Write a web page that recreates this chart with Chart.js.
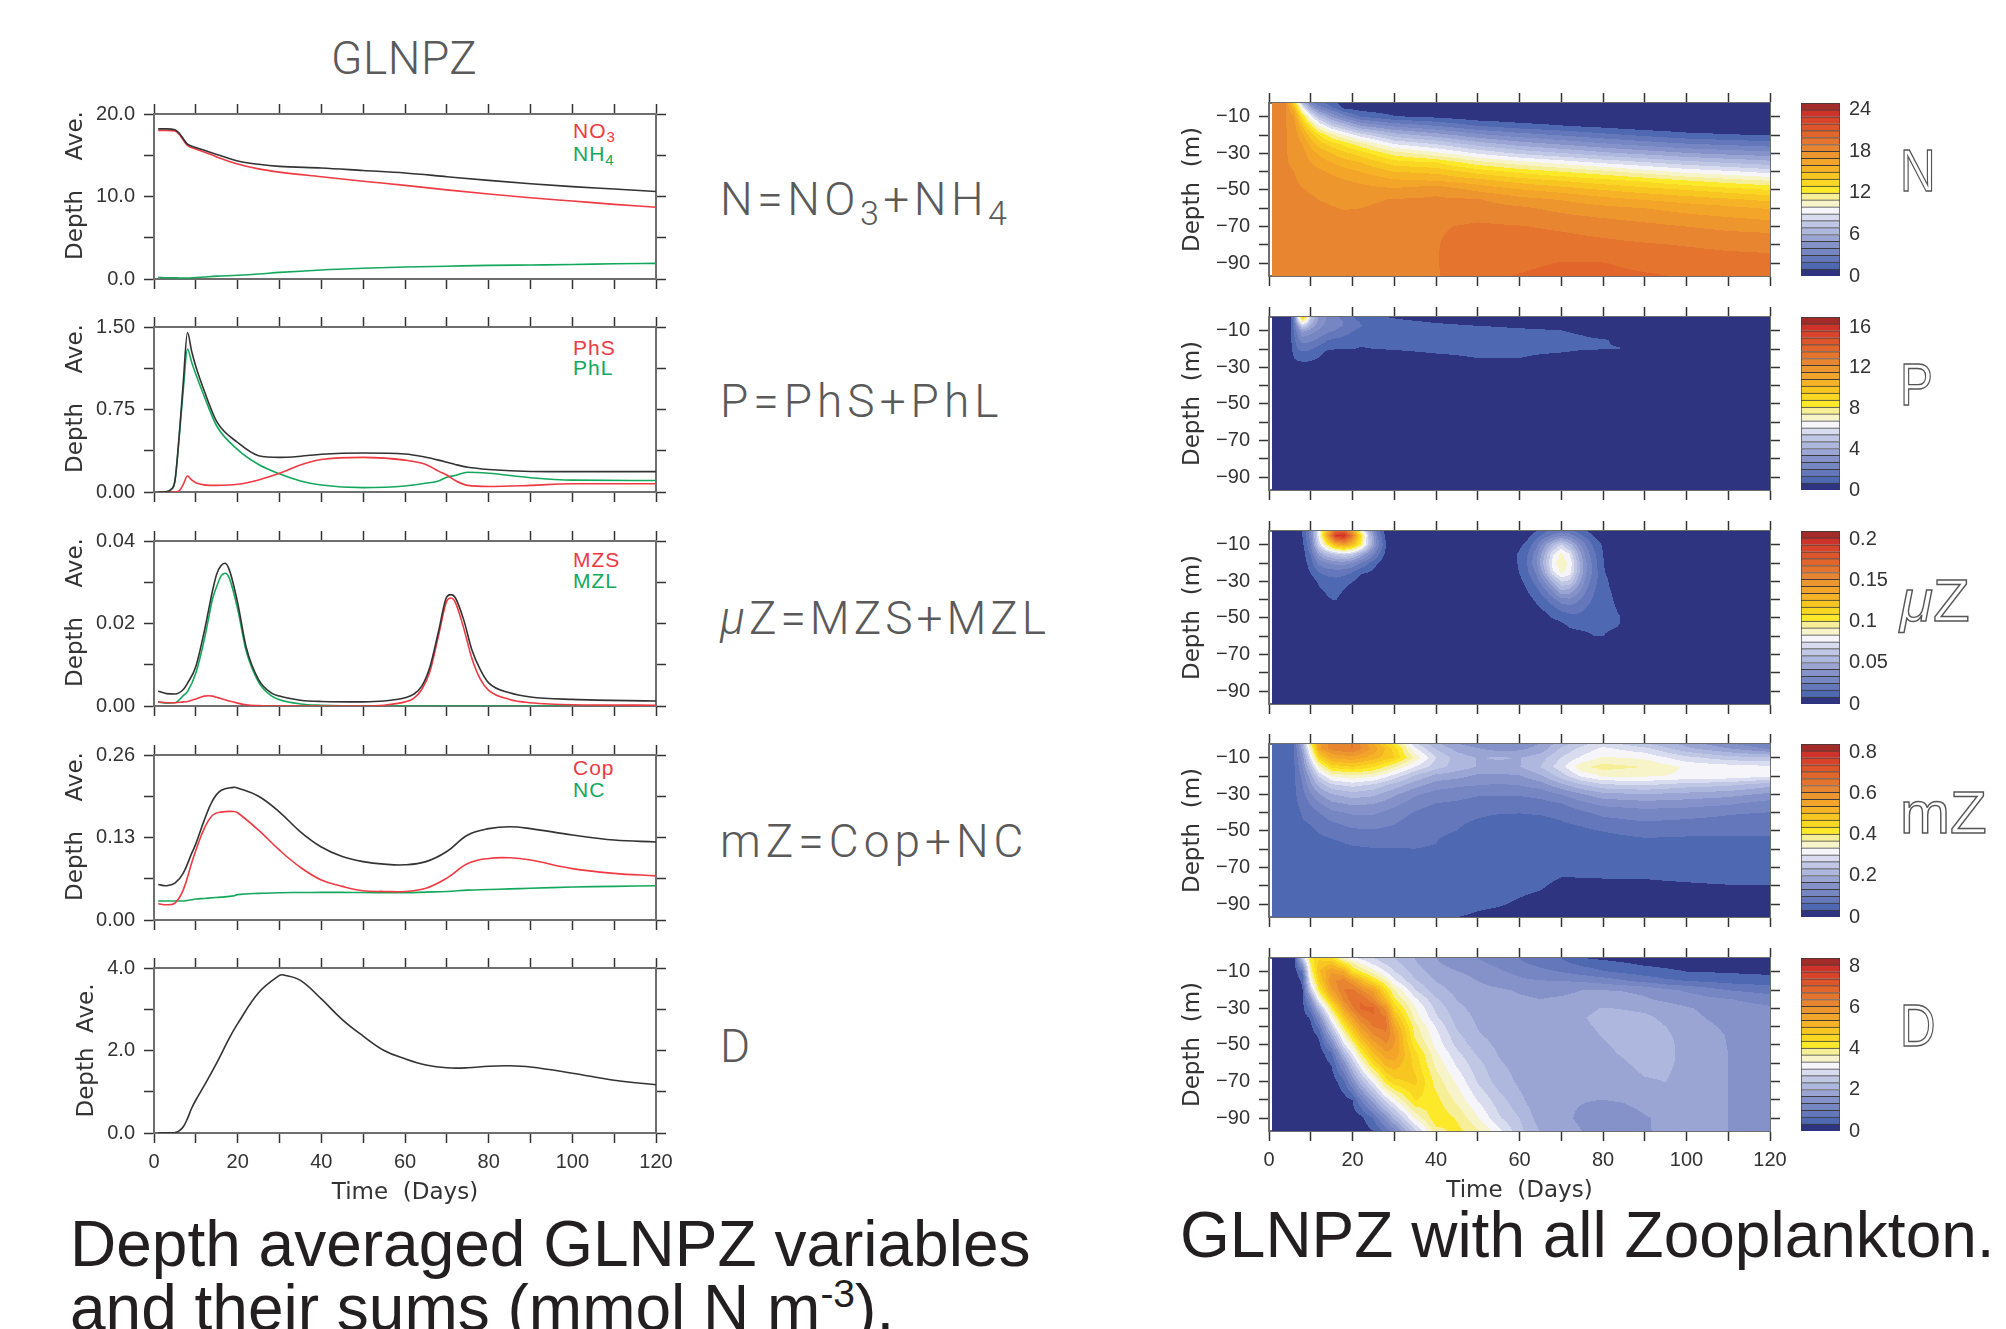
<!DOCTYPE html>
<html lang="en">

<head>
    <meta charset="UTF-8">
    <title>GLNPZ</title>
    <script src="https://cdn.jsdelivr.net/npm/chart.js"></script>
    <style>
        html, body { margin: 0; background: #fff; }
        #page { position: relative; width: 2006px; height: 1329px; overflow: hidden; }
        canvas { position: absolute; }
        .t { position: absolute; white-space: nowrap; line-height: 1; }
        .formula { font: 300 46px Roboto, sans-serif; color: #5a5a5a; letter-spacing: 5px; }
        .formula sub { font-size: 34px; vertical-align: -10px; line-height: 0; }
        .hollow { font: 400 60px "Liberation Sans", sans-serif; color: #fff; -webkit-text-stroke: 1.4px #555; transform-origin: left top; }
        .key { font: 21px "Liberation Sans", sans-serif; letter-spacing: 1px; }
        .key sub { font-size: 15px; vertical-align: -4px; line-height: 0; }
        .caption { font: 64px "Liberation Sans", sans-serif; color: #231f20; }
        .caption sup { font-size: 39px; vertical-align: 23px; line-height: 0; }
    </style>
</head>

<body>
    <div id="page">
        <div class="t formula" style="left:331px;top:31px;font-size:46px;letter-spacing:0.5px;">GLNPZ</div>

        <div class="t formula" style="left:720px;top:172px;letter-spacing:4.5px;">N=NO<sub>3</sub>+NH<sub>4</sub></div>
        <div class="t formula" style="left:720px;top:374px;">P=PhS+PhL</div>
        <div class="t formula" style="left:720px;top:591px;letter-spacing:4px;"><i>μ</i>Z=MZS+MZL</div>
        <div class="t formula" style="left:720px;top:814px;">mZ=Cop+NC</div>
        <div class="t formula" style="left:720px;top:1019px;">D</div>

        <div class="t key" style="left:573px;top:119px;color:#ee3a43;">NO<sub>3</sub></div>
        <div class="t key" style="left:573px;top:142px;color:#14a85c;">NH<sub>4</sub></div>
        <div class="t key" style="left:573px;top:336px;color:#ee3a43;">PhS</div>
        <div class="t key" style="left:573px;top:356px;color:#14a85c;">PhL</div>
        <div class="t key" style="left:573px;top:548px;color:#ee3a43;">MZS</div>
        <div class="t key" style="left:573px;top:569px;color:#14a85c;">MZL</div>
        <div class="t key" style="left:573px;top:756px;color:#ee3a43;">Cop</div>
        <div class="t key" style="left:573px;top:778px;color:#14a85c;">NC</div>

        <div class="t hollow" style="left:1900px;top:136px;transform:scaleX(.82);">N</div>
        <div class="t hollow" style="left:1900px;top:350px;transform:scaleX(.82);">P</div>
        <div class="t hollow" style="left:1900px;top:566px;"><i>μ</i>Z</div>
        <div class="t hollow" style="left:1900px;top:778px;">mZ</div>
        <div class="t hollow" style="left:1900px;top:991px;transform:scaleX(.82);">D</div>

        <div class="t caption" style="left:70px;top:1207px;">Depth averaged GLNPZ variables</div>
        <div class="t caption" style="left:70px;top:1271px;">and their sums (mmol N m<sup>-3</sup>).</div>
        <div class="t caption" style="left:1180px;top:1198px;">GLNPZ with all Zooplankton.</div>
    </div>

    <script type="text/javascript">
        // ---- depth averaged series ----
        const nDays = [1, 3, 5, 6, 7, 8, 10, 12, 15, 20, 25, 30, 40, 50, 60, 70, 80, 90, 100, 110, 120];
        const nTotal = [18.2, 18.2, 18.1, 17.7, 17, 16.35, 15.95, 15.6, 15.1, 14.3, 13.9, 13.65, 13.45, 13.15, 12.85, 12.4, 11.95, 11.55, 11.2, 10.9, 10.6];
        const no3 = [18, 18, 17.95, 17.55, 16.85, 16.2, 15.75, 15.4, 14.8, 13.95, 13.35, 12.95, 12.4, 11.85, 11.35, 10.8, 10.3, 9.85, 9.45, 9.05, 8.7];
        const nh4 = [.2, .15, .15, .12, .12, .12, .18, .25, .35, .45, .6, .8, 1.1, 1.3, 1.45, 1.55, 1.65, 1.7, 1.75, 1.85, 1.9];

        const pDays = [1, 3, 4, 5, 6, 7, 8, 9, 10, 12, 15, 20, 25, 30, 35, 40, 50, 60, 65, 68, 70, 72, 75, 80, 90, 100, 120];
        const pTotal = [0, .003, .02, .1, .5, 1, 1.45, 1.28, 1.14, .92, .64, .45, .33, .315, .325, .343, .355, .346, .316, .29, .27, .25, .225, .205, .187, .185, .185];
        const phS = [0, 0, 0, 0, .01, .07, .145, .11, .085, .065, .06, .07, .11, .17, .245, .295, .315, .29, .25, .19, .155, .105, .06, .05, .06, .075, .075];
        const phL = [0, .003, .02, .1, .49, .93, 1.3, 1.18, 1.07, .87, .6, .385, .25, .165, .1, .063, .04, .055, .08, .1, .135, .15, .18, .17, .13, .108, .105];

        const muDays = [1, 3, 5, 7, 8, 10, 12, 13, 14, 15, 16, 17, 18, 20, 22, 25, 28, 30, 35, 40, 50, 55, 60, 62, 64, 66, 68, 70, 71, 72, 74, 76, 78, 80, 85, 90, 100, 120];
        const muTotal = [.0036, .003, .0029, .004, .0055, .0096, .018, .023, .028, .032, .034, .0346, .033, .025, .0144, .0064, .0032, .0024, .0014, .0011, .001, .0012, .002, .0028, .0048, .0096, .018, .0265, .027, .0263, .021, .0136, .0088, .0056, .0032, .0022, .0016, .0012];
        const mzs = [.001, .0008, .0008, .001, .0011, .0017, .0024, .0025, .0024, .0021, .0018, .0015, .0012, .0007, .0003, .0001, 0, 0, 0, 0, 0, .0002, .001, .0018, .004, .0085, .017, .0255, .0262, .0252, .019, .0115, .0065, .0038, .0016, .0008, .0003, .0002];
        const mzl = [.001, .0007, .0008, .0025, .0035, .008, .016, .021, .026, .029, .0315, .0322, .031, .0235, .0135, .0058, .0025, .0015, .0005, .0002, 0, 0, 0, 0, 0, 0, 0, 0, 0, 0, 0, 0, 0, 0, 0, 0, 0, 0];

        const mzDays = [1, 3, 5, 7, 9, 10, 12, 14, 16, 19, 20, 25, 30, 35, 40, 45, 50, 55, 60, 65, 70, 75, 80, 85, 90, 100, 110, 120];
        const mzTotal = [.056, .054, .058, .074, .105, .12, .157, .188, .204, .209, .208, .195, .17, .139, .115, .1, .092, .088, .087, .092, .108, .134, .144, .147, .144, .134, .126, .123];
        const cop = [.0256, .024, .0266, .0475, .09, .11, .144, .165, .17, .171, .169, .1415, .11, .083, .063, .053, .046, .045, .045, .05, .066, .089, .097, .098, .0945, .081, .0735, .0695];
        const nc = [.03, .03, .03, .03, .032, .033, .034, .035, .036, .038, .04, .042, .043, .0433, .0435, .0435, .0433, .043, .043, .044, .045, .047, .048, .049, .05, .052, .053, .054];

        const dDays = [1, 5, 6, 7, 8, 9, 10, 12, 15, 18, 20, 25, 30, 31, 35, 40, 45, 50, 55, 60, 65, 70, 75, 80, 85, 90, 100, 110, 120];
        const detritus = [0, .01, .05, .15, .35, .6, .8, 1.15, 1.7, 2.3, 2.65, 3.4, 3.82, 3.83, 3.7, 3.25, 2.75, 2.35, 2, 1.8, 1.65, 1.58, 1.58, 1.62, 1.63, 1.6, 1.45, 1.28, 1.17];

        // tick labels
        const timeTicks = [0, 10, 20, 30, 40, 50, 60, 70, 80, 90, 100, 110, 120];
        const timeLabels = ['0', '', '20', '', '40', '', '60', '', '80', '', '100', '', '120'];
        const nTicks = [0, 5, 10, 15, 20], nLabels = ['0.0', '', '10.0', '', '20.0'];
        const pTicks = [0, .375, .75, 1.125, 1.5], pLabels = ['0.00', '', '0.75', '', '1.50'];
        const muTicks = [0, .01, .02, .03, .04], muLabels = ['0.00', '', '0.02', '', '0.04'];
        const mzTicks = [0, .065, .13, .195, .26], mzLabels = ['0.00', '', '0.13', '', '0.26'];
        const dTicks = [0, 1, 2, 3, 4], dLabels = ['0.0', '', '2.0', '', '4.0'];
        const depthTicks = [-90, -80, -70, -60, -50, -40, -30, -20, -10];
        const depthLabels = ['−90', '', '−70', '', '−50', '', '−30', '', '−10'];

        // ---- depth / time sections (one inner array per day, shallow to deep) ----
        const midDepths = [-2.5, -5, -10, -15, -20, -25, -30, -35, -40, -45, -50, -55, -60, -70, -80, -90, -97];

        const nSectionDays = [.7, 4, 6, 8, 10, 12, 15, 18, 22, 30, 40, 50, 60, 70, 80, 90, 100, 110, 120];
        const nSection = [
            [18.4, 18.4, 18.4, 18.4, 18.4, 18.4, 18.4, 18.4, 18.4, 18.4, 18.4, 18.4, 18.4, 18.4, 18.4, 18.4, 18.4],
            [18.05, 18.05, 18.05, 18.05, 18.05, 18.05, 18.05, 18.05, 18.1, 18.15, 18.2, 18.25, 18.3, 18.4, 18.4, 18.4, 18.4],
            [13.5, 15.5, 17, 17.5, 17.6, 17.7, 17.8, 17.9, 18, 18.1, 18.2, 18.2, 18.3, 18.4, 18.4, 18.4, 18.4],
            [7, 9.5, 13, 15, 16.3, 17, 17.4, 17.6, 17.7, 17.85, 18.05, 18.2, 18.3, 18.4, 18.4, 18.4, 18.4],
            [3.5, 5.5, 9.5, 12.5, 14.5, 15.7, 16.5, 17, 17.4, 17.7, 17.9, 18.1, 18.3, 18.4, 18.4, 18.4, 18.4],
            [2.2, 3.5, 7, 10, 13, 14.6, 15.8, 16.6, 17.2, 17.6, 17.85, 17.98, 18.15, 18.3, 18.4, 18.4, 18.4],
            [1.5, 2.2, 5, 8, 11.3, 13.6, 15, 16, 16.8, 17.4, 17.75, 17.9, 18.03, 18.3, 18.4, 18.5, 18.5],
            [.5, .7, 3.5, 6.8, 10, 12.7, 14.3, 15.5, 16.4, 17.1, 17.6, 17.85, 17.97, 18.3, 18.5, 18.6, 18.6],
            [.3, .4, 2, 5, 8.5, 11.4, 13.5, 15, 16, 16.8, 17.4, 17.85, 18, 18.3, 18.5, 18.6, 18.6],
            [.1, .2, 1.1, 3.8, 6.5, 9, 11.5, 13.5, 15, 16.2, 17.2, 18.03, 18.2, 18.5, 18.7, 18.8, 18.85],
            [.1, .1, .8, 3, 5.5, 8, 10.3, 13, 14.7, 16, 17.8, 18.1, 18.4, 18.9, 18.95, 18.95, 18.9],
            [.1, .1, .3, 2, 4.3, 6.6, 8.9, 11.4, 13.6, 15.4, 16.8, 18.05, 18.5, 19.15, 19.5, 19.7, 19.8],
            [0, 0, .2, 1.4, 3.5, 5.6, 7.8, 10.4, 12.7, 14.6, 16.1, 17.3, 18.2, 19.05, 19.5, 19.8, 20.05],
            [0, 0, .1, 1.05, 2.9, 4.9, 7.1, 9.6, 12, 14, 15.6, 16.9, 17.7, 18.85, 19.4, 20.05, 20.3],
            [0, 0, 0, .7, 2.3, 4.2, 6.3, 8.8, 11.3, 13.4, 15, 16.3, 17.3, 18.6, 19.25, 20.03, 20.3],
            [0, 0, 0, .3, 1.8, 3.6, 5.7, 8.1, 10.5, 12.8, 14.5, 15.9, 17, 18.3, 19.1, 19.75, 20.1],
            [0, 0, 0, .2, 1.3, 3.1, 5.1, 7.4, 9.7, 12.1, 14, 15.5, 16.6, 18, 18.95, 19.5, 19.95],
            [0, 0, 0, .1, 1.1, 2.8, 4.7, 6.9, 9.2, 11.5, 13.5, 15.1, 16.3, 17.75, 18.8, 19.4, 19.6],
            [0, 0, 0, .05, .95, 2.5, 4.4, 6.4, 8.6, 11, 13, 14.7, 15.9, 17.6, 18.75, 19.3, 19.5]
        ];

        const pSectionDays = [.7, 5, 6, 7, 8, 9, 10, 12, 14, 16, 18, 20, 22, 25, 30, 40, 50, 60, 70, 75, 80, 84, 90, 120];
        const pDepths = [-2.5, -5, -7.5, -10, -12.5, -15, -20, -25, -30, -97];
        const pSection = [
            [],
            [.4, .4, .4, .4, .4, .4, .35, .1],
            [2, 1.8, 1.6, 1.5, 1.3, 1.2, 1, .69, .1],
            [6.5, 5.2, 3.4, 2.6, 2.2, 1.9, 1.4, .9, .2],
            [9.5, 7.5, 5.3, 3.6, 2.9, 2.3, 1.5, .95, .25],
            [8, 6.4, 4.6, 3.4, 2.8, 2.3, 1.5, .95, .25],
            [5, 4.5, 3.8, 3.1, 2.6, 2.2, 1.4, .9, .2],
            [3.2, 3.1, 2.9, 2.6, 2.2, 1.9, 1, .65, .1],
            [2.6, 2.6, 2.5, 2.2, 1.9, 1.4, .75, .2],
            [2.2, 2.3, 2.2, 2, 1.7, 1.2, .7, .1],
            [1.8, 2, 2, 1.7, 1.4, 1.1, .7, .1],
            [1.4, 1.6, 1.6, 1.4, 1.2, 1, .7, .1],
            [1, 1.3, 1.4, 1.2, 1.1, .95, .6, .1],
            [.8, 1, 1.1, 1.05, 1, .95, .68, .1],
            [.6, .85, 1, 1, 1, .95, .72, .3],
            [.3, .6, .85, .95, 1, 1, .85, .5, .1],
            [.2, .45, .7, .85, .95, .95, .9, .68, .2],
            [.1, .35, .6, .78, .9, .95, .9, .68, .2],
            [0, .2, .5, .7, .85, .9, .85, .4, .1],
            [0, .1, .3, .5, .68, .8, .72, .3],
            [0, 0, .1, .3, .5, .72, .7, .2],
            [0, 0, 0, .1, .3, .6, .7],
            [0, 0, 0, 0, 0, .2, .2],
            []
        ];

        const muSectionDays = [.7, 6, 8, 10, 12, 14, 16, 18, 20, 22, 24, 26, 28, 30, 58, 60, 62, 64, 66, 68, 70, 72, 74, 76, 78, 80, 82, 84, 86, 120];
        const muDepths = [-2.5, -5, -10, -15, -20, -25, -30, -35, -40, -45, -50, -55, -60, -65, -97];
        const muSection = [
            [],
            [.002, .002, .001],
            [.0085, .0085, .006, .004, .003, .002],
            [.03, .03, .025, .018, .013, .009, .004, .002],
            [.08, .08, .07, .045, .028, .017, .01, .007, .002],
            [.13, .14, .1, .058, .033, .02, .013, .01, .0075, .002],
            [.17, .195, .13, .065, .037, .021, .014, .012, .009, .003],
            [.17, .2, .14, .07, .037, .02, .012, .008, .004],
            [.14, .16, .125, .065, .033, .017, .009, .003],
            [.09, .11, .1, .05, .025, .01, .004],
            [.05, .06, .06, .035, .017, .0085, .001],
            [.02, .025, .03, .02, .009, .003],
            [.004, .006, .009, .006, .002],
            [],
            [0, 0, .001, .004, .004, .002],
            [0, .001, .006, .01, .01, .009, .006, .002],
            [.003, .006, .012, .017, .018, .016, .012, .009, .005, .001],
            [.008, .013, .022, .03, .032, .027, .02, .014, .01, .006, .001],
            [.014, .02, .04, .05, .055, .048, .034, .023, .015, .01, .004],
            [.02, .028, .055, .074, .08, .074, .052, .035, .022, .014, .009, .002],
            [.022, .032, .068, .086, .09, .086, .068, .05, .03, .019, .011, .005, .001],
            [.02, .03, .055, .075, .082, .08, .065, .047, .032, .021, .013, .009, .003],
            [.014, .021, .038, .05, .056, .055, .047, .037, .027, .02, .014, .01, .005],
            [.009, .014, .024, .03, .034, .034, .03, .025, .02, .016, .013, .01, .007, .001],
            [.003, .007, .014, .018, .02, .021, .019, .017, .015, .014, .012, .01, .0085, .002],
            [0, .003, .007, .0085, .009, .0095, .012, .012, .012, .012, .011, .01, .0085, .002],
            [0, 0, 0, .002, .004, .005, .0065, .008, .0095, .0105, .0105, .0095, .006],
            [0, 0, 0, 0, 0, 0, 0, .003, .0045, .007, .009, .008, .003],
            [],
            []
        ];

        const mzSectionDays = [.7, 6, 8, 10, 12, 15, 20, 25, 30, 35, 40, 45, 50, 55, 60, 65, 70, 75, 80, 90, 100, 110, 120];
        const mzSection = [
            [.05, .05, .05, .05, .05, .05, .05, .05, .05, .05, .05, .05, .05, .05, .05, .05, .05],
            [.067, .067, .065, .063, .062, .06, .06, .058, .055, .052, .05, .05, .05, .05, .05, .05, .05],
            [.2, .18, .15, .13, .11, .1, .088, .078, .07, .065, .06, .055, .05, .05, .05, .05, .05],
            [.4, .36, .3, .24, .19, .16, .13, .105, .085, .07, .062, .056, .05, .05, .05, .05, .05],
            [.56, .56, .46, .35, .27, .21, .165, .13, .1, .082, .07, .06, .052, .05, .05, .05, .05],
            [.62, .62, .54, .45, .34, .26, .2, .16, .125, .1, .08, .065, .055, .05, .05, .05, .05],
            [.64, .64, .56, .47, .36, .28, .22, .175, .14, .115, .095, .075, .062, .05, .05, .05, .05],
            [.54, .56, .52, .44, .345, .26, .21, .17, .14, .115, .098, .08, .065, .05, .05, .05, .05],
            [.42, .46, .47, .37, .29, .22, .175, .145, .12, .105, .092, .078, .066, .05, .05, .05, .05],
            [.28, .31, .36, .3, .23, .18, .14, .115, .098, .085, .078, .07, .067, .05, .05, .05, .05],
            [.21, .23, .27, .25, .19, .15, .12, .1, .085, .075, .072, .068, .066, .052, .05, .05, .04],
            [.17, .19, .22, .22, .18, .14, .115, .095, .08, .072, .067, .06, .052, .05, .05, .05, .034],
            [.15, .17, .2, .2, .16, .135, .105, .085, .073, .064, .055, .05, .05, .05, .05, .04, .028],
            [.135, .155, .205, .19, .16, .13, .105, .08, .069, .058, .052, .05, .05, .05, .045, .036, .025],
            [.15, .16, .2, .2, .165, .135, .105, .082, .068, .058, .052, .05, .05, .05, .04, .03, .022],
            [.17, .18, .22, .235, .195, .15, .112, .09, .07, .06, .052, .05, .05, .045, .036, .026, .02],
            [.22, .24, .27, .29, .25, .19, .135, .1, .075, .066, .055, .05, .05, .04, .028, .022, .018],
            [.26, .28, .31, .362, .31, .23, .165, .125, .095, .075, .06, .052, .05, .038, .03, .024, .02],
            [.29, .31, .34, .385, .34, .26, .19, .145, .11, .09, .068, .056, .05, .039, .03, .025, .02],
            [.24, .28, .33, .368, .34, .27, .2, .155, .12, .1, .08, .063, .052, .038, .031, .026, .022],
            [.19, .21, .28, .33, .33, .25, .19, .15, .115, .095, .075, .062, .054, .04, .032, .027, .023],
            [.14, .17, .25, .32, .325, .24, .18, .14, .105, .09, .072, .064, .056, .042, .033, .028, .024],
            [.1, .13, .24, .31, .31, .21, .16, .12, .1, .08, .07, .065, .056, .042, .033, .03, .028]
        ];

        // D section is kept one inner array per depth, it was read along the depths
        const dSectionDays = [.7, 6, 8, 10, 12, 15, 18, 20, 22, 25, 28, 30, 35, 40, 45, 50, 55, 60, 65, 70, 75, 80, 85, 90, 95, 100, 110, 120];
        const dByDepth = [
            [0, .2, 2.6, 4.3, 4.6, 4.4, 3.5, 3.1, 2.9, 2.7, 2.5, 2.35, 2, 1.68, 1.5, 1.34, 1.2, 1, .85, .67, .34, .25, .15, .1, .08, .05, .05, .05],
            [0, .2, 1.9, 4.1, 4.8, 4.9, 4.1, 3.7, 3.3, 2.9, 2.6, 2.45, 2.05, 1.72, 1.52, 1.4, 1.25, 1.05, .9, .75, .55, .45, .34, .25, .2, .15, .1, .1],
            [0, .15, .7, 3.8, 5, 5.7, 5.4, 4.4, 4.05, 3.5, 3, 2.7, 2.2, 1.85, 1.7, 1.55, 1.4, 1.25, 1.1, 1, .85, .7, .6, .5, .42, .34, .3, .25],
            [0, .1, .4, 3.3, 4.7, 6, 6.2, 5.8, 5.2, 4.4, 3.7, 3.1, 2.4, 2, 1.85, 1.68, 1.55, 1.42, 1.36, 1.34, 1.3, 1.2, 1.05, .9, .75, .67, .55, .5],
            [0, .08, .3, 2.5, 4.2, 5.7, 6.4, 6.5, 6.1, 5.6, 4.4, 3.7, 2.7, 2.15, 1.9, 1.78, 1.72, 1.65, 1.6, 1.6, 1.68, 1.68, 1.66, 1.6, 1.42, 1.3, 1, .85],
            [0, .05, .25, 1.5, 3.3, 5, 6.2, 6.6, 6.7, 6.1, 5, 4.1, 3.1, 2.4, 2, 1.85, 1.78, 1.72, 1.68, 1.72, 1.78, 1.8, 1.78, 1.72, 1.6, 1.5, 1.36, 1.2],
            [0, .05, .2, .9, 2.2, 4.1, 5.6, 6.3, 6.8, 6.8, 5.9, 4.6, 3.4, 2.6, 2.1, 1.9, 1.85, 1.8, 1.78, 1.8, 1.95, 2.03, 2, 1.95, 1.85, 1.72, 1.5, 1.4],
            [0, .03, .15, .4, 1.4, 3.3, 4.9, 5.7, 6.3, 6.7, 6.4, 5.1, 3.55, 2.75, 2.2, 1.95, 1.85, 1.8, 1.78, 1.8, 2, 2.08, 2.1, 2.08, 1.95, 1.78, 1.55, 1.42],
            [0, .03, .1, .25, .8, 2.6, 4.2, 5, 5.8, 6.4, 6.5, 5.5, 3.85, 3, 2.3, 2, 1.88, 1.82, 1.78, 1.8, 1.98, 2.05, 2.15, 2.13, 2.02, 1.85, 1.62, 1.45],
            [0, .02, .08, .15, .4, 1.9, 3.5, 4.4, 5.2, 6, 6.3, 5.8, 3.95, 3.15, 2.45, 2.05, 1.92, 1.84, 1.78, 1.8, 1.94, 2.03, 2.13, 2.15, 2.07, 1.9, 1.66, 1.46],
            [0, .02, .06, .12, .25, 1.2, 2.9, 3.7, 4.6, 5.5, 6, 5.7, 4.2, 3.25, 2.6, 2.15, 1.95, 1.85, 1.78, 1.8, 1.88, 1.98, 2.1, 2.15, 2.09, 1.92, 1.67, 1.48],
            [0, .01, .04, .08, .14, .6, 2.2, 3, 4, 5, 5.6, 5.6, 4.5, 3.45, 2.8, 2.3, 2, 1.88, 1.78, 1.78, 1.84, 1.93, 2.05, 2.15, 2.1, 1.92, 1.68, 1.48],
            [0, .01, .03, .06, .1, .38, 1.5, 2.5, 3.3, 4.5, 5.2, 5.3, 4.6, 3.6, 2.95, 2.45, 2.05, 1.9, 1.77, 1.77, 1.8, 1.86, 1.98, 2.12, 2.1, 1.9, 1.68, 1.5],
            [0, 0, .02, .04, .06, .12, .6, 1.4, 2.2, 3.1, 4.2, 4.6, 4.8, 3.9, 3.3, 2.65, 2.2, 1.95, 1.75, 1.72, 1.72, 1.75, 1.86, 1.98, 2.02, 1.86, 1.68, 1.5],
            [0, 0, .01, .02, .04, .08, .2, .34, 1, 1.9, 2.8, 3.3, 4.4, 4.15, 3.6, 3, 2.5, 2.1, 1.75, 1.7, 1.69, 1.68, 1.7, 1.76, 1.82, 1.78, 1.68, 1.5],
            [0, 0, 0, .01, .02, .05, .08, .14, .22, .7, 1.5, 2.1, 3.4, 4.3, 4, 3.4, 2.75, 2.35, 1.85, 1.72, 1.65, 1.55, 1.58, 1.66, 1.73, 1.73, 1.68, 1.5],
            [0, 0, 0, 0, .01, .03, .05, .08, .12, .33, .8, 1.2, 2.6, 3.9, 4.15, 3.75, 3.15, 2.45, 2, 1.75, 1.68, 1.55, 1.58, 1.66, 1.72, 1.72, 1.68, 1.5]
        ];
        const dSection = dSectionDays.map((_, i) => dByDepth.map(row => row[i]));

        // colour bar: 25 levels, navy to dark red
        const levelColors = ['#2e3480', '#4e69b2', '#6577bb', '#7686c2', '#8492c9', '#9aa5d3', '#aeb7dd', '#c0c7e4', '#d8dcee', '#f6f6fa',
            '#f6f4c8', '#f7ef98', '#fcea2a', '#fad723', '#f8c620', '#f5b325', '#f3a52a', '#ed962e', '#e88530', '#e5742e',
            '#e2652c', '#de552b', '#d8432a', '#cf3229', '#a32b2a'];
        const nBar = [0, 6, 12, 18, 24], nBarLabels = ['0', '6', '12', '18', '24'];
        const pBar = [0, 4, 8, 12, 16], pBarLabels = ['0', '4', '8', '12', '16'];
        const muBar = [0, .05, .1, .15, .2], muBarLabels = ['0', '0.05', '0.1', '0.15', '0.2'];
        const mzBar = [0, .2, .4, .6, .8], mzBarLabels = ['0', '0.2', '0.4', '0.6', '0.8'];
        const dBar = [0, 2, 4, 6, 8], dBarLabels = ['0', '2', '4', '6', '8'];

        // ---- page helpers ----
        const page = document.getElementById('page');
        const tickFont = { family: '"Liberation Sans", sans-serif', size: 20 };
        const titleFont = { family: '"DejaVu Sans", sans-serif', size: 23 };
        const inkColor = '#333';
        const frameColor = '#6e6e6e';
        const margin = 28;

        function addCanvas(left, top, width, height) {
            const c = document.createElement('canvas');
            c.width = width; c.height = height;
            c.style.left = left + 'px'; c.style.top = top + 'px';
            page.appendChild(c);
            return c;
        }

        // fixed tick values; same marks on all sides, text only on the main two
        function axis(position, min, max, ticks, labels, size, extra) {
            const upright = position === 'left' || position === 'right';
            return Object.assign({
                type: 'linear', position, min, max,
                afterBuildTicks: a => { a.ticks = ticks.map(v => ({ value: v })); },
                afterFit: a => {
                    if (upright) a.width = size; else a.height = size;
                },
                border: { display: true, color: frameColor, width: 2 },
                grid: { drawOnChartArea: false, drawTicks: true, tickLength: 10, color: inkColor, tickWidth: 1.5 },
                ticks: {
                    display: !!labels, autoSkip: false, maxRotation: 0, color: inkColor, font: tickFont, padding: upright ? 9 : 7,
                    callback: (v, i) => labels ? labels[i] : ''
                }
            }, extra || {});
        }

        function plotScales(yMin, yMax, yTicks, yLabels, yTitle, titleInset, leftSize, withTime) {
            return {
                x: axis('bottom', 0, 120, timeTicks, withTime ? timeLabels : null, withTime ? 74 : margin,
                    withTime ? { title: { display: true, text: 'Time  (Days)', color: inkColor, font: titleFont, padding: 0 } } : null),
                xTop: axis('top', 0, 120, timeTicks, null, margin),
                y: axis('left', yMin, yMax, yTicks, yLabels, leftSize,
                    { title: { display: true, text: yTitle, color: inkColor, font: titleFont, padding: { top: titleInset, bottom: 0 } } }),
                yRight: axis('right', yMin, yMax, yTicks, null, margin)
            };
        }

        function lineChart(top, series, yMax, yTicks, yLabels, withTime, smooth) {
            const plotH = 165, plotW = 502, leftSize = 92;
            const c = addCanvas(154 - leftSize, top + 1 - margin, leftSize + plotW + margin, margin + plotH + (withTime ? 74 : margin));
            // the D panel has its axis title centred and set closer in, the others sit higher
            const yTitle = withTime ? 'Depth  Ave.' : '   Depth    Ave.';
            new Chart(c, {
                type: 'line',
                data: {
                    datasets: series.map(s => ({
                        data: s.days.map((d, i) => ({ x: d, y: s.values[i] })),
                        borderColor: s.color, borderWidth: 1.6, pointRadius: 0,
                        cubicInterpolationMode: smooth ? 'default' : 'monotone', tension: smooth ? .4 : 0
                    }))
                },
                options: {
                    responsive: false, animation: false,
                    plugins: { legend: { display: false }, tooltip: { enabled: false } },
                    scales: plotScales(0, yMax, yTicks, yLabels, yTitle, withTime ? 11 : 0, leftSize, withTime)
                }
            });
        }

        // filled section: every plot pixel is read back through the scales, looked up
        // between the four nearest grid values, and painted with its colour level
        function sectionPlugin(days, depths, cols, step) {
            const find = (list, v, down) => {
                let i = 0;
                while (i < list.length - 2 && (down ? v < list[i + 1] : v > list[i + 1])) i++;
                return i;
            };
            const at = (i, j) => cols[i][j] ?? 0;
            return {
                id: 'section',
                beforeDatasetsDraw(chart) {
                    const { left, right, top, bottom } = chart.chartArea;
                    const x = chart.scales.x, y = chart.scales.y, ctx = chart.ctx;
                    for (let py = Math.floor(top); py < bottom; py++) {
                        const d = Math.min(depths[0], Math.max(depths[depths.length - 1], y.getValueForPixel(py + .5)));
                        const j = find(depths, d, true);
                        const fj = (d - depths[j]) / (depths[j + 1] - depths[j]);
                        for (let px = Math.floor(left); px < right; px++) {
                            const t = x.getValueForPixel(px + .5);
                            if (t < days[0] || t > days[days.length - 1]) continue;
                            const i = find(days, t, false);
                            const fi = (t - days[i]) / (days[i + 1] - days[i]);
                            const v = (1 - fi) * ((1 - fj) * at(i, j) + fj * at(i, j + 1)) + fi * ((1 - fj) * at(i + 1, j) + fj * at(i + 1, j + 1));
                            ctx.fillStyle = levelColors[Math.min(24, Math.floor(v / step))];
                            ctx.fillRect(px, py, 1, 1);
                        }
                    }
                }
            };
        }

        function sectionChart(top, days, depths, cols, step, barTicks, barLabels, withTime) {
            const plotH = 173, plotW = 501, leftSize = 90;
            const c = addCanvas(1269 - leftSize, top + 1 - margin, leftSize + plotW + margin, margin + plotH + (withTime ? 74 : margin));
            const nodes = [];
            days.forEach((d, i) => depths.forEach((z, j) => nodes.push({ x: d, y: z, v: cols[i][j] ?? 0 })));
            new Chart(c, {
                type: 'scatter',
                data: { datasets: [{ data: nodes, pointRadius: 0 }] },
                options: {
                    responsive: false, animation: false,
                    plugins: { legend: { display: false }, tooltip: { enabled: false } },
                    scales: plotScales(-97, -2.5, depthTicks, depthLabels, 'Depth  (m)', 0, leftSize, withTime)
                },
                plugins: [sectionPlugin(days, depths, cols, step)]
            });

            // colour bar, one stacked bar piece per level
            const bar = addCanvas(1801, top + 1 - margin, 100, plotH + 2 * margin);
            new Chart(bar, {
                type: 'bar',
                data: {
                    labels: [''],
                    datasets: levelColors.map(color => ({
                        data: [step], backgroundColor: color, borderColor: '#3c3c3c', borderWidth: 1,
                        barPercentage: 1, categoryPercentage: 1, stack: 'bar'
                    }))
                },
                options: {
                    responsive: false, animation: false,
                    layout: { padding: { top: margin, bottom: margin } },
                    plugins: { legend: { display: false }, tooltip: { enabled: false } },
                    scales: {
                        x: { display: false, stacked: true },
                        y: {
                            position: 'right', stacked: true, min: 0, max: step * 25,
                            afterBuildTicks: a => { a.ticks = barTicks.map(v => ({ value: v })); },
                            afterFit: a => { a.width = 61; },
                            border: { display: false },
                            grid: { display: false, drawTicks: false },
                            ticks: { color: inkColor, font: tickFont, padding: 9, autoSkip: false, callback: (v, i) => barLabels[i] }
                        }
                    }
                }
            });
        }

        // ---- left column ----
        const black = '#333', red = '#ee3a43', green = '#14a85c';
        lineChart(113, [
            { days: nDays, values: nTotal, color: black },
            { days: nDays, values: no3, color: red },
            { days: nDays, values: nh4, color: green }], 20, nTicks, nLabels, false, false);
        lineChart(326, [
            { days: pDays, values: pTotal, color: black },
            { days: pDays, values: phS, color: red },
            { days: pDays, values: phL, color: green }], 1.5, pTicks, pLabels, false, false);
        lineChart(540, [
            { days: muDays, values: muTotal, color: black },
            { days: muDays, values: mzs, color: red },
            { days: muDays, values: mzl, color: green }], .04, muTicks, muLabels, false, false);
        lineChart(754, [
            { days: mzDays, values: mzTotal, color: black },
            { days: mzDays, values: cop, color: red },
            { days: mzDays, values: nc, color: green }], .26, mzTicks, mzLabels, false, true);
        lineChart(967, [
            { days: dDays, values: detritus, color: black }], 4, dTicks, dLabels, true, true);

        // ---- right column ----
        sectionChart(102, nSectionDays, midDepths, nSection, 1, nBar, nBarLabels, false);
        sectionChart(316, pSectionDays, pDepths, pSection, .68, pBar, pBarLabels, false);
        sectionChart(530, muSectionDays, muDepths, muSection, .0084, muBar, muBarLabels, false);
        sectionChart(743, mzSectionDays, midDepths, mzSection, .0336, mzBar, mzBarLabels, false);
        sectionChart(957, dSectionDays, midDepths, dSection, .336, dBar, dBarLabels, true);
    </script>
</body>

</html>
